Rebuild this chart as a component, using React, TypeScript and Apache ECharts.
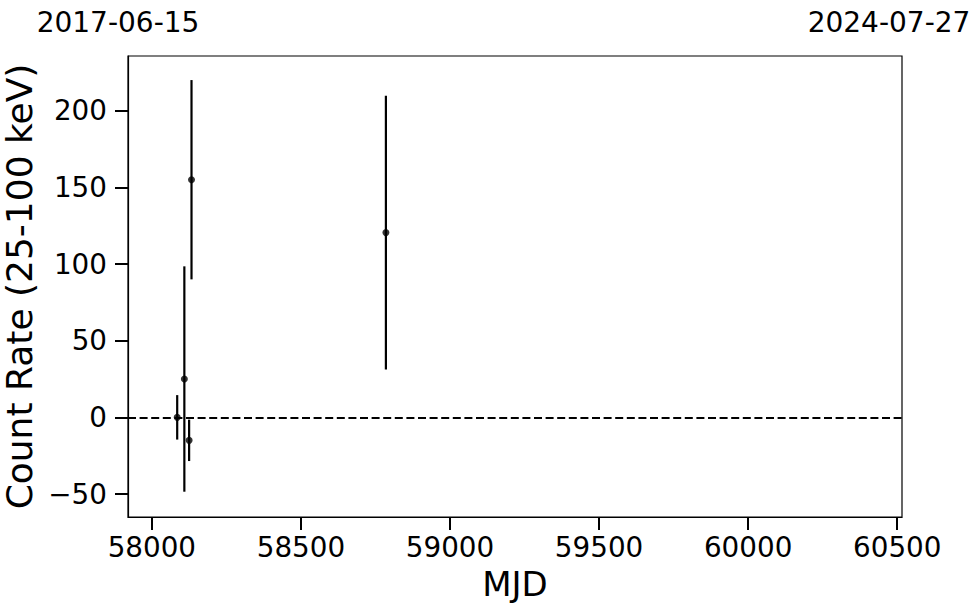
import React, { useEffect, useRef } from "react";
import * as echarts from "echarts";

const mjd = [58085, 58109, 58125, 58133, 58785];
const rate = [0, 25, -15, 155, 120.5];
const rateErr = [14.5, 73.5, 13.5, 65, 89.3];
const xTicks = [58000, 58500, 59000, 59500, 60000, 60500];
const yTicks = [-50, 0, 50, 100, 150, 200];
const startDate = "2017-06-15";
const endDate = "2024-07-27";

const FONT = "DejaVu Sans";

const fmt = (v: number) => (v < 0 ? "\u2212" + String(Math.abs(v)) : String(v));

export default function App() {
  const ref = useRef<HTMLDivElement>(null);
  useEffect(() => {
    const chart = echarts.init(ref.current!, null, { renderer: "svg" });
    const pts = mjd.map((m, i) => [m, rate[i], rateErr[i]]);
    chart.setOption({
      animation: false,
      backgroundColor: "#fff",
      grid: {
        left: 128,
        top: 56,
        width: 774,
        height: 461,
        containLabel: false,
        outerBoundsMode: "none",
        show: true,
        borderColor: "#000",
        borderWidth: 1.2,
        backgroundColor: "transparent",
      },
      xAxis: {
        type: "value",
        min: 57920,
        max: 60516,
        name: "MJD",
        nameLocation: "middle",
        nameGap: 50,
        nameTextStyle: { fontFamily: FONT, fontSize: 34, color: "#000" },
        axisLine: { show: true, onZero: false, lineStyle: { color: "#000", width: 1.2 } },
        axisTick: {
          show: true,
          inside: false,
          length: 13,
          customValues: xTicks,
          lineStyle: { color: "#000", width: 2 },
        },
        axisLabel: {
          customValues: xTicks,
          formatter: fmt,
          margin: 16,
          fontFamily: FONT,
          fontSize: 27.8,
          color: "#000",
        },
        splitLine: { show: false },
      },
      yAxis: {
        type: "value",
        min: -65,
        max: 235.7,
        name: "Count Rate (25-100 keV)",
        nameLocation: "middle",
        nameGap: 86,
        nameTextStyle: { fontFamily: FONT, fontSize: 36, color: "#000" },
        axisLine: { show: true, onZero: false, lineStyle: { color: "#000", width: 1.2 } },
        axisTick: {
          show: true,
          inside: false,
          length: 13,
          customValues: yTicks,
          lineStyle: { color: "#000", width: 2 },
        },
        axisLabel: {
          customValues: yTicks,
          formatter: fmt,
          margin: 21,
          fontFamily: FONT,
          fontSize: 27.8,
          color: "#000",
        },
        splitLine: { show: false },
      },
      graphic: [
        {
          type: "text",
          x: 118,
          y: 22,
          style: {
            text: startDate,
            fontFamily: FONT,
            fontSize: 28,
            fill: "#000",
            textAlign: "center",
            textVerticalAlign: "middle",
          },
        },
        {
          type: "text",
          x: 889,
          y: 22,
          style: {
            text: endDate,
            fontFamily: FONT,
            fontSize: 28,
            fill: "#000",
            textAlign: "center",
            textVerticalAlign: "middle",
          },
        },
      ],
      series: [
        {
          type: "custom",
          data: pts,
          encode: { x: 0, y: 1 },
          renderItem: (params: any, api: any) => {
            const x = api.value(0);
            const y = api.value(1);
            const e = api.value(2);
            const p1 = api.coord([x, y - e]);
            const p2 = api.coord([x, y + e]);
            return {
              type: "line",
              shape: { x1: p1[0], y1: p1[1], x2: p2[0], y2: p2[1] },
              style: { stroke: "#000", lineWidth: 2.2 },
            };
          },
          z: 2,
        },
        {
          type: "scatter",
          data: pts.map((p) => [p[0], p[1]]),
          symbol: "circle",
          symbolSize: 7,
          itemStyle: { color: "#000" },
          z: 3,
          markLine: {
            silent: true,
            symbol: "none",
            label: { show: false },
            lineStyle: { color: "#000", width: 2, type: [8, 3.6] },
            data: [{ yAxis: 0 }],
          },
        },
      ],
    });
    return () => chart.dispose();
  }, []);
  return (
    <div
      ref={ref}
      style={{ position: "absolute", left: 0, top: 0, width: 980, height: 613 }}
    />
  );
}
